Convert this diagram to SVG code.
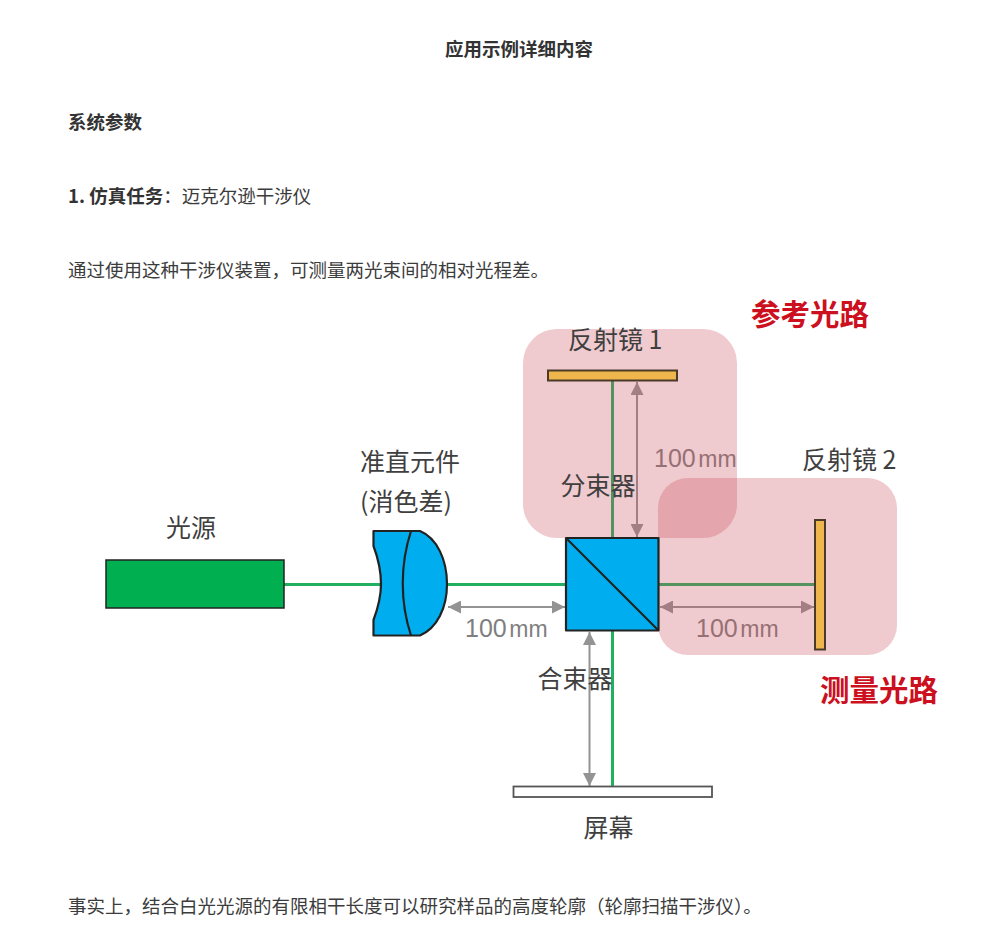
<svg xmlns="http://www.w3.org/2000/svg" width="1000" height="936" viewBox="0 0 1000 936">
  <style>
    text { font-family: "Noto Sans CJK SC", "Liberation Sans", sans-serif; }
    .body { font-size: 18.5px; fill: #3c3c3c; }
    .head { font-size: 18.5px; fill: #333; font-weight: 700; }
    .label { font-size: 25px; fill: #3f3f3f; }
    .dim { font-family: "Liberation Sans", sans-serif; font-size: 25px; fill: #7f7f7f; }
    .dim tspan { font-size: 23px; }
    .path-name { font-size: 29.500px; font-weight: 700; fill: #cc1020; }
    .zone { fill: #c94f5c; fill-opacity: 0.3; }
    .beam { stroke: #22b060; stroke-width: 3; fill: none; }
    .dimline { stroke: #939393; stroke-width: 2; fill: none; marker-start: url(#tip); marker-end: url(#tip); }
    .outline { stroke: #222; stroke-width: 2.2; stroke-linejoin: round; }
    .mirror { fill: #f0b64e; stroke: #4a3a28; stroke-width: 2; }
  </style>
  <defs>
    <marker id="tip" viewBox="0 0 10 10" refX="10" refY="5" markerWidth="6.500" markerHeight="6.500" orient="auto-start-reverse" markerUnits="strokeWidth">
      <path d="M0 0 L10 5 L0 10 Z" fill="#939393"/>
    </marker>
  </defs>
  <rect width="1000" height="936" fill="#fff"/>

  <g id="article-top">
    <text class="head" x="519" y="56" text-anchor="middle">应用示例详细内容</text>
    <text class="head" x="68" y="129">系统参数</text>
    <text class="body" x="68" y="203"><tspan class="head">1. 仿真任务</tspan>：迈克尔逊干涉仪</text>
    <text class="body" x="68" y="277">通过使用这种干涉仪装置，可测量两光束间的相对光程差。</text>
  </g>

  <!-- Beams and dimension lines sit under the translucent path zones -->
  <g id="connectors">
    <path class="beam" d="M284 584.500H380M447 584.500H566"/>
    <path class="beam" d="M658 584.500H815"/>
    <path class="beam" d="M612.500 381V538"/>
    <path class="beam" d="M612.500 631V786"/>
    <path class="dimline" d="M637 382V537"/>
    <path class="dimline" d="M448 607H565"/>
    <path class="dimline" d="M660 607H814"/>
    <path class="dimline" d="M589.500 632V786"/>
  </g>

  <g id="dimensions">
    <text class="dim" x="654" y="467">100<tspan dx="2.500">mm</tspan></text>
    <text class="dim" x="465" y="637">100<tspan dx="2.500">mm</tspan></text>
    <text class="dim" x="696" y="637">100<tspan dx="2.500">mm</tspan></text>
  </g>

  <g id="zone-reference"><rect class="zone" x="523" y="329" width="214" height="209" rx="34"/></g>
  <g id="zone-measure"><rect class="zone" x="658" y="478" width="239" height="177" rx="30"/></g>

  <g id="source">
    <rect x="106" y="560" width="178" height="48" fill="#00b050" stroke="#222" stroke-width="1.500"/>
    <text class="label" x="191" y="537" text-anchor="middle">光源</text>
  </g>

  <g id="collimator">
    <path class="outline" fill="#00aeef" d="M373.500 531H420C437 538 447 560 447 584C447 608 437 628 420 635.500H373.500V620C378 608 381 596 381 584C381 570 378 558 373.500 546Z"/>
    <path class="outline" fill="none" d="M411 531C400 565 400 602 411 635.500"/>
    <text class="label" x="360" y="471">准直元件</text>
    <text class="label" x="360" y="511">(消色差)</text>
  </g>

  <g id="beam-splitter">
    <rect class="outline" fill="#00aeef" x="566" y="538" width="92.500" height="92.500"/>
    <path class="outline" fill="none" d="M566 538L658.500 630.500"/>
    <text class="label" x="598" y="495" text-anchor="middle">分束器</text>
    <text class="label" x="575" y="688" text-anchor="middle">合束器</text>
  </g>

  <g id="mirror-1">
    <rect class="mirror" x="548" y="370.500" width="129" height="10"/>
    <text class="label" x="568" y="349">反射镜 1</text>
  </g>

  <g id="mirror-2">
    <rect class="mirror" x="815" y="520" width="10" height="129.500"/>
    <text class="label" x="802" y="469">反射镜 2</text>
  </g>

  <g id="screen">
    <rect x="513.500" y="786.500" width="198.500" height="10.500" fill="#fff" stroke="#555" stroke-width="1.800"/>
    <text class="label" x="608.500" y="837" text-anchor="middle">屏幕</text>
  </g>

  <g id="path-names">
    <text class="path-name" x="751" y="325">参考光路</text>
    <text class="path-name" x="820" y="701">测量光路</text>
  </g>

  <g id="article-bottom">
    <text class="body" x="68" y="913">事实上，结合白光光源的有限相干长度可以研究样品的高度轮廓（轮廓扫描干涉仪）。</text>
  </g>
</svg>
